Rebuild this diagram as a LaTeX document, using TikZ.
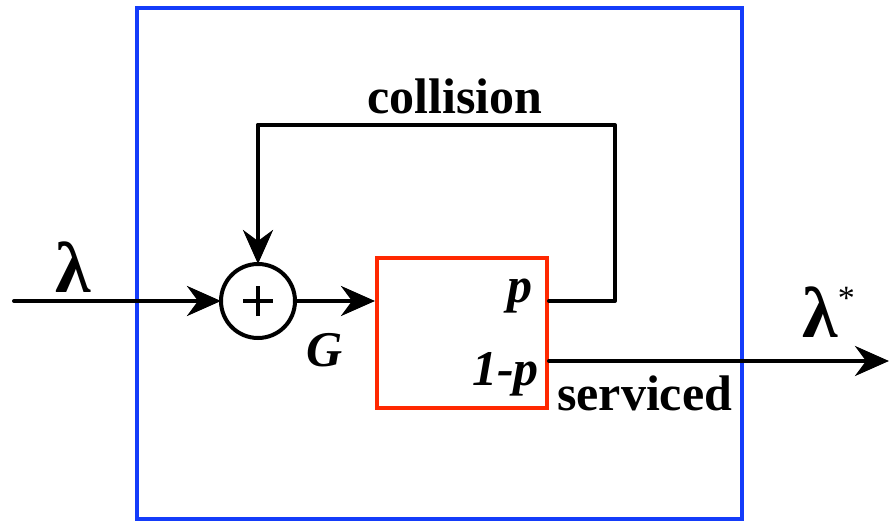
\documentclass[tikz,border=0pt]{standalone}
\usepackage{fontspec}
\setmainfont{Liberation Serif}
\usetikzlibrary{arrows.meta}
\definecolor{frameblue}{RGB}{20,60,250}
\definecolor{boxred}{RGB}{255,40,0}
\begin{document}
\begin{tikzpicture}[x=1pt,y=-1pt,
  lbl/.style={font=\fontsize{50}{58}\selectfont\bfseries, inner sep=0pt},
  ilbl/.style={font=\fontsize{50}{58}\selectfont\bfseries\itshape, inner sep=0pt},
  glbl/.style={font=\fontsize{72}{80}\selectfont, inner sep=0pt},
  wire/.style={line width=4pt, line cap=round, line join=round},
  arr/.style={wire, -{Stealth[length=34pt,width=30pt,inset=11pt]}}]
\useasboundingbox (0,0) rectangle (890,521);
% outer frame
\node[draw=frameblue, line width=4pt, minimum width=605pt, minimum height=511pt, inner sep=0pt] (frame) at (439.5,263.5) {};
% process box
\node[draw=boxred, line width=4pt, minimum width=170pt, minimum height=150pt, inner sep=0pt] (box) at (462,332.5) {};
% summation
\node[draw, circle, line width=4pt, minimum size=74pt, inner sep=0pt, outer sep=0pt] (sum) at (258,301) {};
\draw[line width=3.5pt] ([xshift=-15pt]sum.center) -- ([xshift=15pt]sum.center)
      ([yshift=-15pt]sum.center) -- ([yshift=15pt]sum.center);
% coordinates
\coordinate (in) at (14,301);
\coordinate (pout) at (box.east |- 0,301);
\coordinate (qout) at (box.east |- 0,361);
\coordinate (fbr) at (615,301);
\coordinate (fbtr) at (615,125);
\coordinate (fbtl) at (258,125);
\coordinate (out) at (889,361);
% connectors
\draw[arr] (in) -- (sum.west);
\draw[arr] (sum.east) -- (box.west |- sum.east);
\draw[wire] (pout) -- (fbr) -- (fbtr) -- (fbtl);
\draw[arr] (fbtl) -- (sum.north);
\draw[arr] (qout) -- (out);
% labels
\node[glbl, anchor=base] (lam) at (73,292) {\textbf{λ}};
\node[ilbl] (g) at (325,350) {G};
\node[lbl] (coll) at (455,96) {collision};
\node[ilbl, anchor=base east] (p) at (533,302) {p};
\node[ilbl, anchor=base east] (q) at (539,385) {1-p};
\node[lbl, anchor=base west] (serv) at (557,410) {serviced};
\node[glbl, anchor=base west] (lamstar) at (802,337) {\textbf{λ}\raisebox{28pt}{\fontsize{34}{38}\selectfont *}};
\end{tikzpicture}
\end{document}
